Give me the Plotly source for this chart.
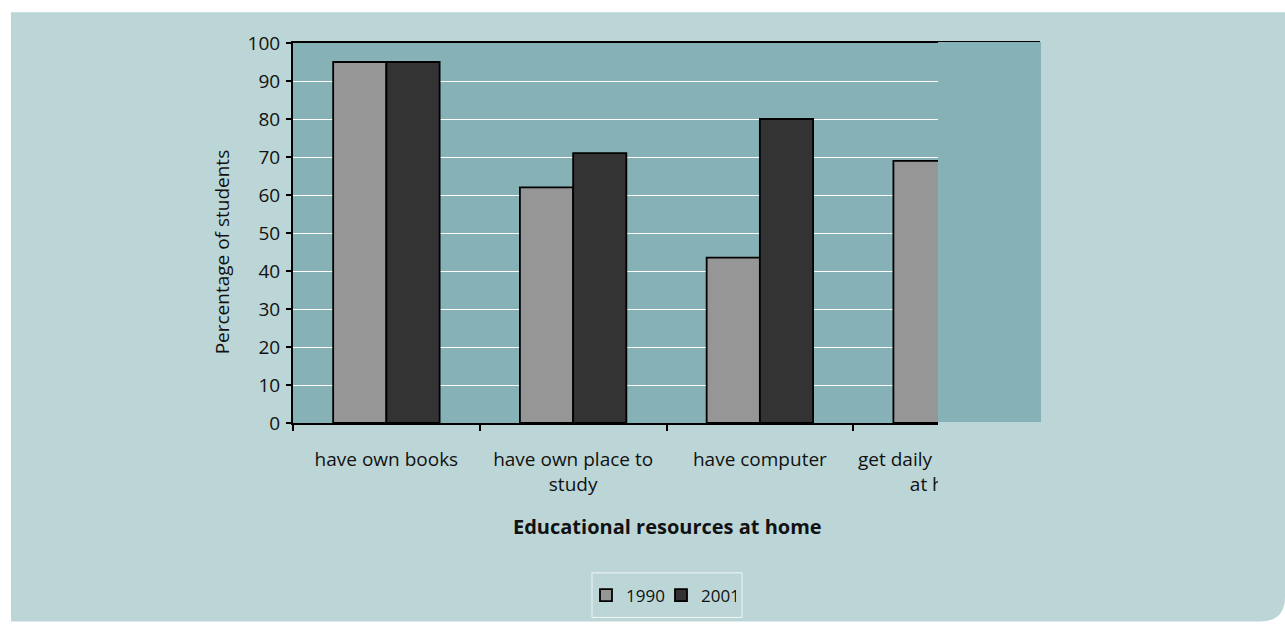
import plotly.graph_objects as go

# ---- data ----
categories = ["have own books", "have own place to<br>study", "have computer",
              "get daily newspaper<br>at home"]
series_names = ["1990", "2001"]
values_1990 = [95, 62, 43.5, 69]
values_2001 = [95, 71, 80, 60]
y_ticks = list(range(0, 101, 10))

# ---- layout geometry (pixels) ----
W, H = 1285, 626
L, R, T, B = 293, 1040, 43, 426
PANEL = "#bcd6d7"
PLOTBG = "#86b1b6"
FONT = "Open Sans"
TXT = "#111111"


def px(x):
    return (x - L) / (R - L)


def py(y):
    return (B - y) / (B - T)


fig = go.Figure()
colors = ["#969696", "#333333"]
for name, vals, col in zip(series_names, [values_1990, values_2001], colors):
    fig.add_trace(go.Bar(
        name=name, x=categories, y=vals,
        marker=dict(color=col, line=dict(color="#000000", width=1.8)),
    ))

# background panel with rounded bottom-right corner
rad = 25
panel_path = (
    f"M {px(11)},{py(12)} L {px(W)},{py(12)} L {px(W)},{py(H - rad)} "
    f"Q {px(W)},{py(H)} {px(W - rad)},{py(H)} L {px(11)},{py(H)} Z"
)
shapes = [
    dict(type="path", xref="paper", yref="paper", path=panel_path,
         fillcolor=PANEL, line=dict(width=0), layer="below"),
    dict(type="rect", xref="paper", yref="paper", x0=0, x1=1, y0=0, y1=1,
         fillcolor=PLOTBG, line=dict(width=0), layer="below"),
    # clipped part of the chart (right side)
    dict(type="rect", xref="paper", yref="paper", x0=px(938), x1=px(R + 1),
         y0=py(425), y1=py(42), fillcolor=PLOTBG, line=dict(width=0), layer="above"),
    dict(type="rect", xref="paper", yref="paper", x0=px(938), x1=px(R + 60),
         y0=py(510), y1=py(425), fillcolor=PANEL, line=dict(width=0), layer="above"),
    # legend frame
    dict(type="rect", xref="paper", yref="paper", x0=px(592), x1=px(742),
         y0=py(622), y1=py(577), line=dict(color="#eef4f4", width=1),
         fillcolor="rgba(0,0,0,0)", layer="above"),
]

annotations = [
    dict(text="Percentage of students", xref="paper", yref="paper",
         x=px(222), y=py(254), textangle=-90, showarrow=False,
         xanchor="center", yanchor="middle",
         font=dict(family=FONT, size=19, color=TXT, weight=500)),
    dict(text="<b>Educational resources at home</b>", xref="paper", yref="paper",
         x=px(667), y=py(530), showarrow=False, xanchor="center", yanchor="middle",
         font=dict(family=FONT, size=20, color=TXT)),
]

fig.update_layout(
    width=W, height=H,
    margin=dict(l=L, r=W - R, t=T, b=H - B, pad=0),
    paper_bgcolor="#ffffff",
    plot_bgcolor="rgba(0,0,0,0)",
    barmode="group", bargap=0.43, bargroupgap=0,
    shapes=shapes, annotations=annotations,
    font=dict(family=FONT, size=19, color=TXT),
    showlegend=True,
    legend=dict(orientation="h", x=px(586), y=py(600), xanchor="left",
                yanchor="middle", bgcolor="rgba(0,0,0,0)", borderwidth=0,
                font=dict(family=FONT, size=17, color=TXT, weight=500),
                itemwidth=30, entrywidth=30, traceorder="normal"),
)
fig.update_xaxes(
    type="category", tickson="boundaries", ticks="outside", ticklen=6,
    tickwidth=2, tickcolor="#000000", showline=True, linecolor="#000000",
    linewidth=2, mirror=True, showgrid=False, ticklabelstandoff=18,
    tickangle=0, automargin=False,
    tickfont=dict(family=FONT, size=19, color=TXT, weight=500), range=[-0.5, 3.5],
)
fig.update_yaxes(
    range=[0, 100], tickvals=y_ticks, ticks="outside", ticklen=5, tickwidth=2,
    tickcolor="#000000", showline=True, linecolor="#000000", linewidth=2,
    showgrid=True, gridcolor="#ffffff", gridwidth=1, zeroline=False,
    automargin=False,
    ticklabelstandoff=2, tickfont=dict(family=FONT, size=19, color=TXT, weight=500),
)

fig.write_html("out.html")
